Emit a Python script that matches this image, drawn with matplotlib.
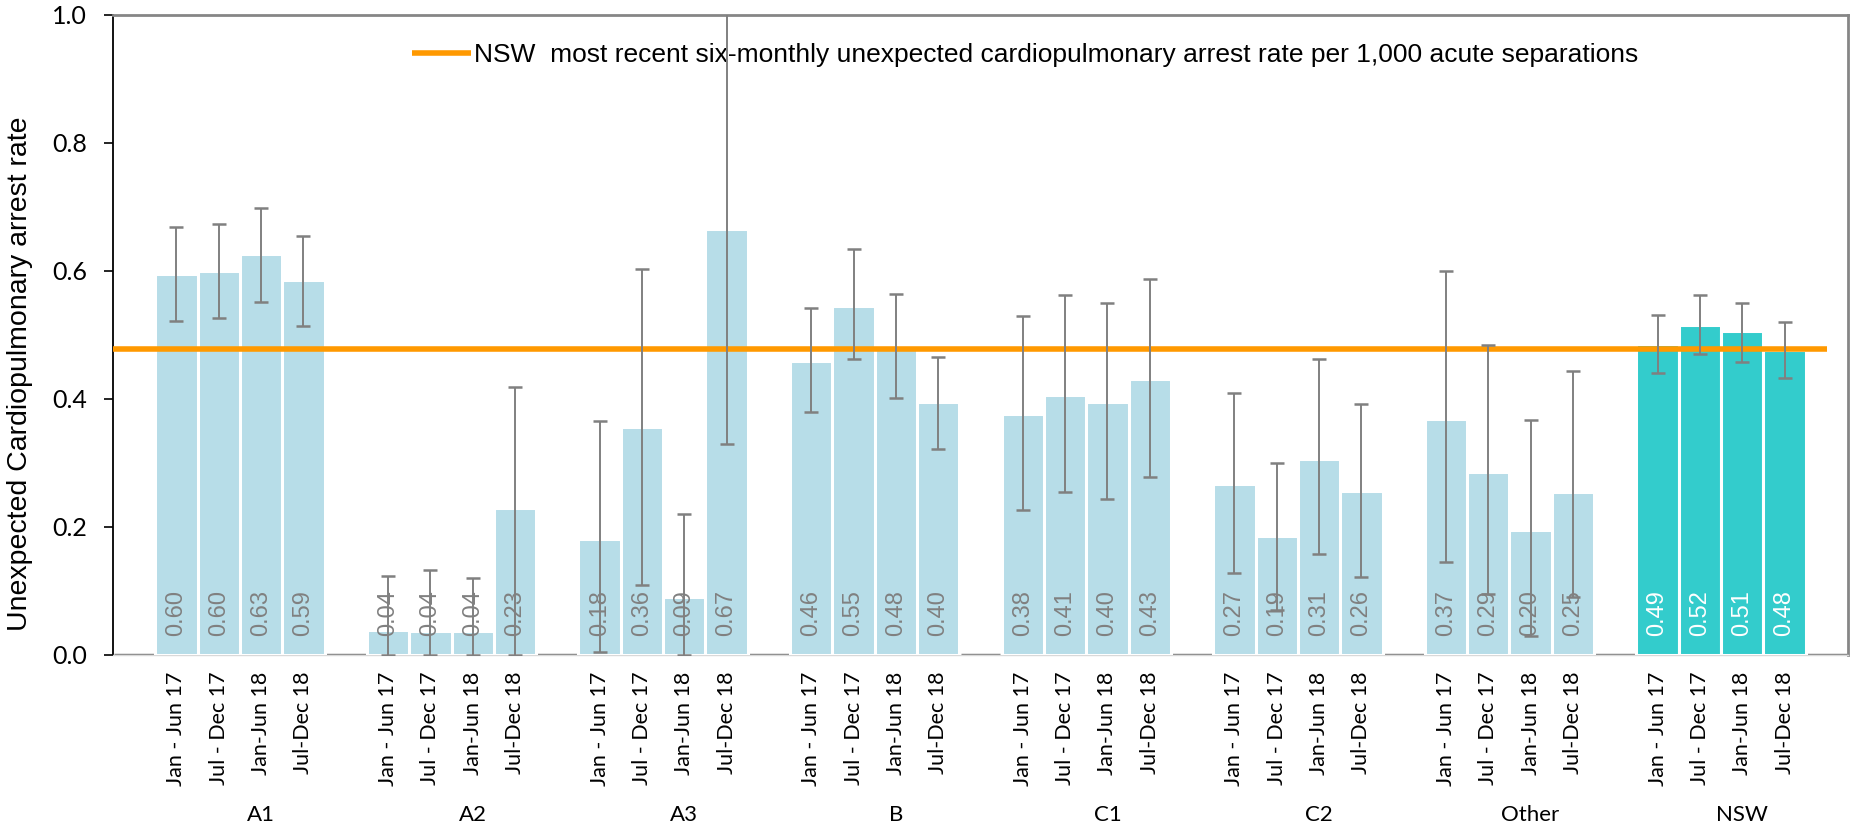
import numpy as np
import matplotlib
matplotlib.use("Agg")
import matplotlib.pyplot as plt


# ==== Data ====

groups = ["A1", "A2", "A3", "B", "C1", "C2", "Other", "NSW"]
periods = ["Jan - Jun 17", "Jul - Dec 17", "Jan-Jun 18", "Jul-Dec 18"]

# six-monthly rate per group (4 periods each, groups in order above)
rates = [0.596, 0.600, 0.626, 0.586,
         0.039, 0.038, 0.038, 0.229,
         0.182, 0.356, 0.090, 0.666,
         0.459, 0.546, 0.479, 0.396,
         0.376, 0.407, 0.396, 0.431,
         0.267, 0.186, 0.307, 0.256,
         0.368, 0.286, 0.196, 0.254,
         0.486, 0.516, 0.506, 0.477]

ci_lower = [0.522, 0.527, 0.551, 0.514,
            0.0, 0.0, 0.0, 0.0,
            0.005, 0.109, 0.0, 0.329,
            0.380, 0.463, 0.401, 0.322,
            0.227, 0.255, 0.244, 0.278,
            0.128, 0.070, 0.158, 0.122,
            0.145, 0.095, 0.029, 0.090,
            0.441, 0.470, 0.458, 0.433]

ci_upper = [0.669, 0.673, 0.698, 0.655,
            0.123, 0.133, 0.120, 0.418,
            0.365, 0.603, 0.221, 1.05,
            0.542, 0.634, 0.564, 0.466,
            0.529, 0.563, 0.550, 0.588,
            0.409, 0.300, 0.462, 0.392,
            0.600, 0.484, 0.367, 0.443,
            0.531, 0.562, 0.550, 0.521]

nsw_recent_rate = 0.478

legend_text = ("NSW  most recent six-monthly unexpected cardiopulmonary "
               "arrest rate per 1,000 acute separations")


# ==== Layout of category slots (one empty slot before each group) ====

n_per = len(periods)
slot_step = n_per + 1
n_slots = len(groups) * slot_step + 1

bar_x = []
for g in range(len(groups)):
    for p in range(n_per):
        bar_x.append(g * slot_step + 1 + p)
bar_x = np.array(bar_x)
gap_x = np.array([s for s in range(n_slots) if s not in set(bar_x)])

rates = np.array(rates)
err = np.vstack([rates - np.array(ci_lower), np.array(ci_upper) - rates])

light_blue = "#B7DDE8"
teal = "#33CCCC"
grey = "#808080"
orange = "#FF9900"

colors = [teal if groups[i // n_per] == "NSW" else light_blue for i in range(len(rates))]
label_colors = ["white" if c == teal else grey for c in colors]


# ==== Plot ====

fig = plt.figure(figsize=(18.52, 8.27), dpi=100)
ax = fig.add_axes([113 / 1852, 1 - 655 / 827, 1735 / 1852, 640 / 827])

ax.bar(bar_x, rates, width=1.0, color=colors, edgecolor="white", linewidth=2.2, zorder=3)
ax.errorbar(bar_x, rates, yerr=err, fmt="none", ecolor=grey, elinewidth=1.4,
            capsize=5, capthick=1.8, zorder=6)

# axis line segments visible in the empty slots
ax.hlines(np.zeros(len(gap_x)), gap_x - 0.47, gap_x + 0.47, colors=grey, linewidth=2.5, zorder=2)

ax.hlines(nsw_recent_rate, -0.5, n_slots - 1, colors=orange, linewidth=4,
          zorder=5, label=legend_text)

# value labels at bar base
for x, v, c in zip(bar_x, rates, label_colors):
    ax.annotate(f"{v:.2f}", xy=(x, 0), xytext=(0, 14), textcoords="offset points",
                rotation=90, ha="center", va="bottom", color=c, fontsize=17,
                family="Liberation Sans", zorder=7)

ax.set_xlim(-0.5, n_slots - 0.5)
ax.set_ylim(0, 1.0)
ax.set_yticks(np.arange(0, 1.01, 0.2))
ax.set_yticklabels([f"{t:.1f}" for t in np.arange(0, 1.01, 0.2)], family="Lato", fontsize=18)
ax.tick_params(axis="y", direction="out", length=6.5, width=1.2, pad=12, color="black")

ax.set_xticks(bar_x)
ax.set_xticklabels(periods * len(groups), rotation=90, family="Lato", fontsize=15.5)
ax.tick_params(axis="x", length=0, pad=12)

for g, name in enumerate(groups):
    xc = g * slot_step + 1 + (n_per - 1) / 2 + 0.5
    ax.text(xc, -0.25, name, transform=ax.get_xaxis_transform(), ha="center", va="center",
            family="Lato", fontsize=16)

ax.set_ylabel("Unexpected Cardiopulmonary arrest rate", family="Liberation Sans", fontsize=20.5)
ax.yaxis.set_label_coords(-0.046, 0.44)

ax.spines["left"].set_color("black")
ax.spines["left"].set_linewidth(1.3)
ax.spines["top"].set_color("#868686")
ax.spines["top"].set_linewidth(2)
ax.spines["right"].set_color("#868686")
ax.spines["right"].set_linewidth(2)
ax.spines["bottom"].set_color("#D9D9D9")
ax.spines["bottom"].set_linewidth(1)

leg = ax.legend(loc="center", bbox_to_anchor=(0.526, 0.9375), frameon=False,
                prop={"family": "Liberation Sans", "size": 19},
                handlelength=2.2, handletextpad=0.15)
leg.set_zorder(1)

fig.savefig("out.png", dpi=100)
